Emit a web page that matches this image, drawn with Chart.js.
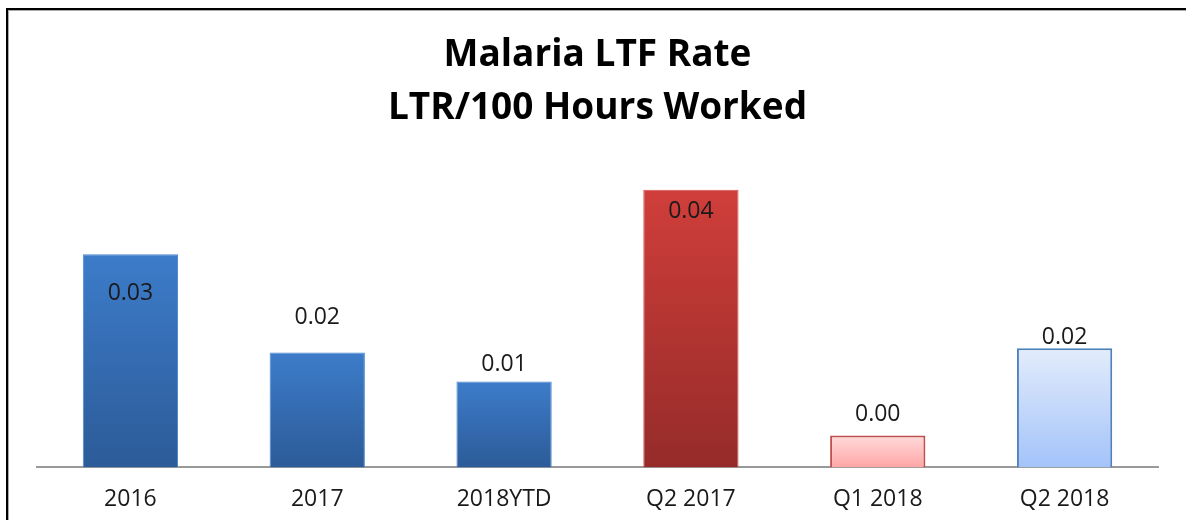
<!DOCTYPE html>
<html lang="en">
<head>
<meta charset="UTF-8">
<title>Malaria LTF Rate</title>
<script src="https://cdn.jsdelivr.net/npm/chart.js"></script>
<style>
  html, body { margin: 0; padding: 0; background: #fff; overflow: hidden; }
  #chart1 { display: block; }
</style>
</head>
<body>
<canvas id="chart1" width="1186" height="520"></canvas>
<script>
  var categories = ['2016', '2017', '2018YTD', 'Q2 2017', 'Q1 2018', 'Q2 2018'];
  var ltfRate = [0.0308, 0.0166, 0.0124, 0.0401, 0.0046, 0.0172];
  var titleLines = ['Malaria LTF Rate', 'LTR/100 Hours Worked'];

  // top / bottom colour of each bar's gradient, and its outline
  var gradTop    = ['#3d7cca', '#3d7cca', '#3d7cca', '#d03e3a', '#ffdada', '#e3ecfb'];
  var gradBottom = ['#2c5b98', '#2c5b98', '#2c5b98', '#952b29', '#ffa6a6', '#a3c3f9'];
  var outline    = ['#4a86cf', '#4a86cf', '#4a86cf', '#d4504c', '#c0504d', '#4f81bd'];
  var outlineW   = [1, 1, 1, 1, 2, 2];
  // where Excel put each value label, relative to the bar top (px)
  var labelShift = [39, -35, -17, 22, -21, -11];

  function barGradient(c) {
    var chart = c.chart;
    if (!chart.chartArea || c.raw === undefined) return gradTop[c.dataIndex];
    var y = chart.scales.y;
    var g = chart.ctx.createLinearGradient(0, y.getPixelForValue(c.raw), 0, y.getPixelForValue(0));
    g.addColorStop(0, gradTop[c.dataIndex]);
    g.addColorStop(1, gradBottom[c.dataIndex]);
    return g;
  }

  // the cropped frame of the original picture: top and left edges only
  var frameEdges = {
    id: 'frameEdges',
    beforeDraw: function(chart) {
      var ctx = chart.ctx;
      ctx.save();
      ctx.fillStyle = '#000';
      ctx.fillRect(6, 8, chart.width, 2);
      ctx.fillRect(6, 8, 2, chart.height);
      ctx.fillStyle = '#aaa';
      ctx.fillRect(8, 10, chart.width, 1);
      ctx.fillRect(8, 10, 1, chart.height);
      ctx.restore();
    }
  };

  var valueLabels = {
    id: 'valueLabels',
    afterDatasetsDraw: function(chart) {
      var ctx = chart.ctx;
      var meta = chart.getDatasetMeta(0);
      ctx.save();
      ctx.font = '23px "Open Sans"';
      ctx.fillStyle = '#1a1a1a';
      ctx.textAlign = 'center';
      ctx.textBaseline = 'middle';
      meta.data.forEach(function(bar, i) {
        ctx.fillText(ltfRate[i].toFixed(2), bar.x, bar.y + labelShift[i]);
      });
      ctx.restore();
    }
  };

  var ctx = document.getElementById('chart1').getContext('2d');
  var myBarChart = new Chart(ctx, {
    type: 'bar',
    data: {
      labels: categories,
      datasets: [{
        data: ltfRate,
        backgroundColor: barGradient,
        borderColor: outline,
        borderWidth: outlineW,
        categoryPercentage: 1,
        barPercentage: 0.51
      }]
    },
    options: {
      responsive: false,
      animation: false,
      layout: { padding: { left: 37, right: 28, top: 0, bottom: -11 } },
      scales: {
        x: {
          grid: { display: false, drawTicks: false },
          border: { display: true, color: '#999', width: 2 },
          ticks: { color: '#1a1a1a', padding: 18, font: { family: 'Open Sans', size: 23 } }
        },
        y: {
          display: false,
          min: 0,
          max: 0.045
        }
      },
      plugins: {
        legend: { display: false },
        tooltip: { enabled: false },
        title: {
          display: true,
          text: titleLines,
          color: '#000',
          font: { family: 'Open Sans', size: 37, weight: 'bold', lineHeight: 1.43 },
          padding: { top: 29, bottom: 21 }
        }
      }
    },
    plugins: [frameEdges, valueLabels]
  });
</script>
</body>
</html>
